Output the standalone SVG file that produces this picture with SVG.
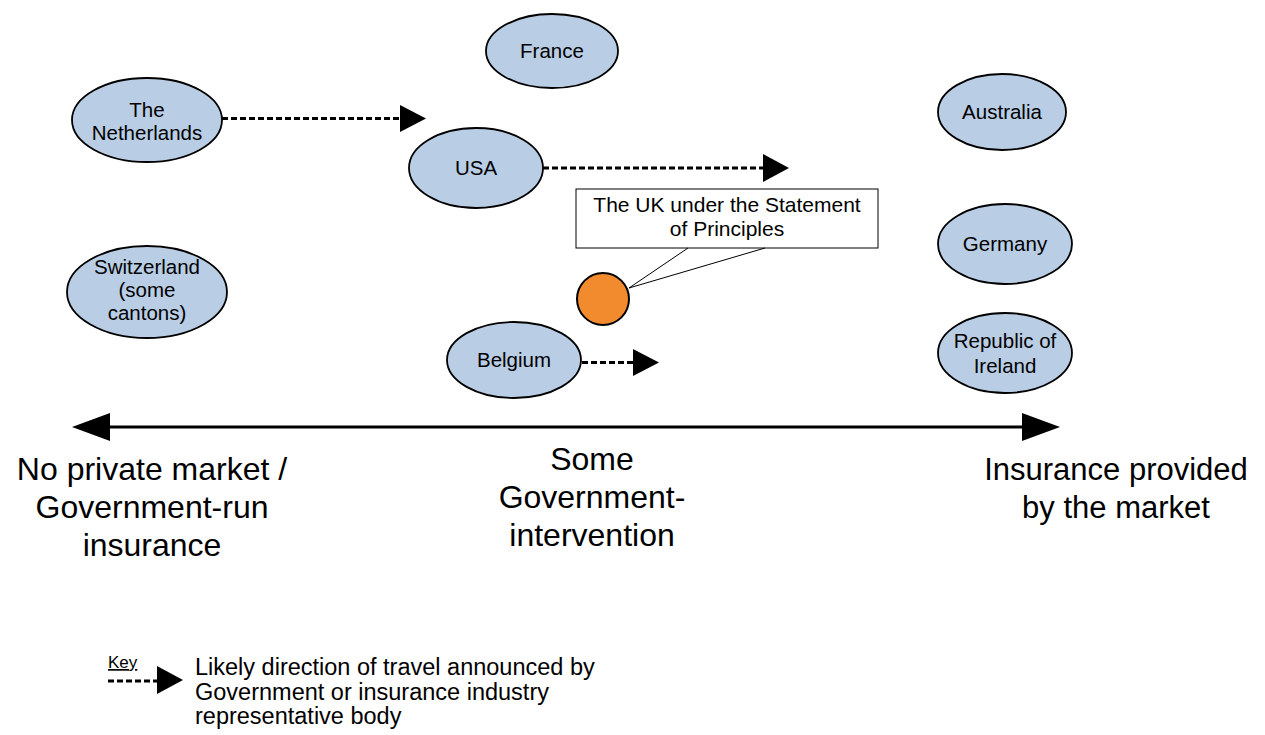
<svg xmlns="http://www.w3.org/2000/svg" width="1265" height="735" viewBox="0 0 1265 735">
<style>
.node{fill:#B9CDE5;stroke:#000;stroke-width:1.8}
.t{font-family:"Liberation Sans",Arial,sans-serif;font-size:20.5px;fill:#000;text-anchor:middle}
.ax{font-family:"Liberation Sans",Arial,sans-serif;font-size:32px;fill:#000;text-anchor:middle}
.key{font-family:"Liberation Sans",Arial,sans-serif;font-size:23.5px;fill:#000}
.dash{stroke:#000;stroke-width:3;stroke-dasharray:6 3;fill:none}
.head{fill:#000}
</style>
<rect width="1265" height="735" fill="#fff"/>
<g id="connectors">
  <line class="dash" x1="222" y1="118.5" x2="401" y2="118.5"/>
  <polygon class="head" points="400,105 426,118.5 400,132"/>
  <line class="dash" x1="543" y1="168" x2="764" y2="168"/>
  <polygon class="head" points="763,154 789,168 763,182"/>
  <line class="dash" x1="582" y1="362.5" x2="634" y2="362.5"/>
  <polygon class="head" points="633,349 659,362.5 633,376"/>
</g>
<g id="axis">
  <line x1="105" y1="427" x2="1027" y2="427" stroke="#000" stroke-width="3"/>
  <polygon class="head" points="72,427 110,413 110,441"/>
  <polygon class="head" points="1060,427 1022,413 1022,441"/>
  <text class="ax" x="152" y="480">No private market /</text>
  <text class="ax" x="152" y="518">Government-run</text>
  <text class="ax" x="152" y="556">insurance</text>
  <text class="ax" x="592" y="470">Some</text>
  <text class="ax" x="592" y="508">Government-</text>
  <text class="ax" x="592" y="546">intervention</text>
  <text class="ax" x="1116" y="480" style="font-size:31px">Insurance provided</text>
  <text class="ax" x="1116" y="518" style="font-size:31px">by the market</text>
</g>
<g id="netherlands">
  <ellipse class="node" cx="147" cy="120" rx="75" ry="42"/>
  <text class="t" x="147" y="117">The</text>
  <text class="t" x="147" y="140">Netherlands</text>
</g>
<g id="france">
  <ellipse class="node" cx="552" cy="51" rx="66" ry="37"/>
  <text class="t" x="552" y="58">France</text>
</g>
<g id="usa">
  <ellipse class="node" cx="476" cy="168" rx="67" ry="40"/>
  <text class="t" x="476" y="175">USA</text>
</g>
<g id="australia">
  <ellipse class="node" cx="1002" cy="112" rx="64" ry="38"/>
  <text class="t" x="1002" y="119">Australia</text>
</g>
<g id="germany">
  <ellipse class="node" cx="1005" cy="244" rx="67" ry="40"/>
  <text class="t" x="1005" y="251">Germany</text>
</g>
<g id="ireland">
  <ellipse class="node" cx="1005" cy="353" rx="67" ry="40"/>
  <text class="t" x="1005" y="348">Republic of</text>
  <text class="t" x="1005" y="373">Ireland</text>
</g>
<g id="switzerland">
  <ellipse class="node" cx="147" cy="292" rx="80" ry="46"/>
  <text class="t" x="147" y="274">Switzerland</text>
  <text class="t" x="147" y="297">(some</text>
  <text class="t" x="147" y="320">cantons)</text>
</g>
<g id="belgium">
  <ellipse class="node" cx="514" cy="360" rx="67" ry="38"/>
  <text class="t" x="514" y="367">Belgium</text>
</g>
<g id="uk">
  <rect x="576" y="189" width="302" height="59" fill="#fff" stroke="#000" stroke-width="1"/>
  <polyline points="688,248 629,288 765,248" fill="none" stroke="#000" stroke-width="1"/>
  <text class="t" x="727" y="212" style="font-size:21px">The UK under the Statement</text>
  <text class="t" x="727" y="236" style="font-size:21px">of Principles</text>
  <circle cx="603" cy="299" r="26" fill="#F28A2E" stroke="#000" stroke-width="2"/>
</g>
<g id="key">
  <text class="key" x="108" y="668" style="font-size:17px" text-decoration="underline">Key</text>
  <line class="dash" x1="108" y1="681" x2="158" y2="681"/>
  <polygon class="head" points="157,666 183,680 157,694"/>
  <text class="key" x="195" y="675">Likely direction of travel announced by</text>
  <text class="key" x="195" y="700">Government or insurance industry</text>
  <text class="key" x="195" y="724">representative body</text>
</g>
</svg>
